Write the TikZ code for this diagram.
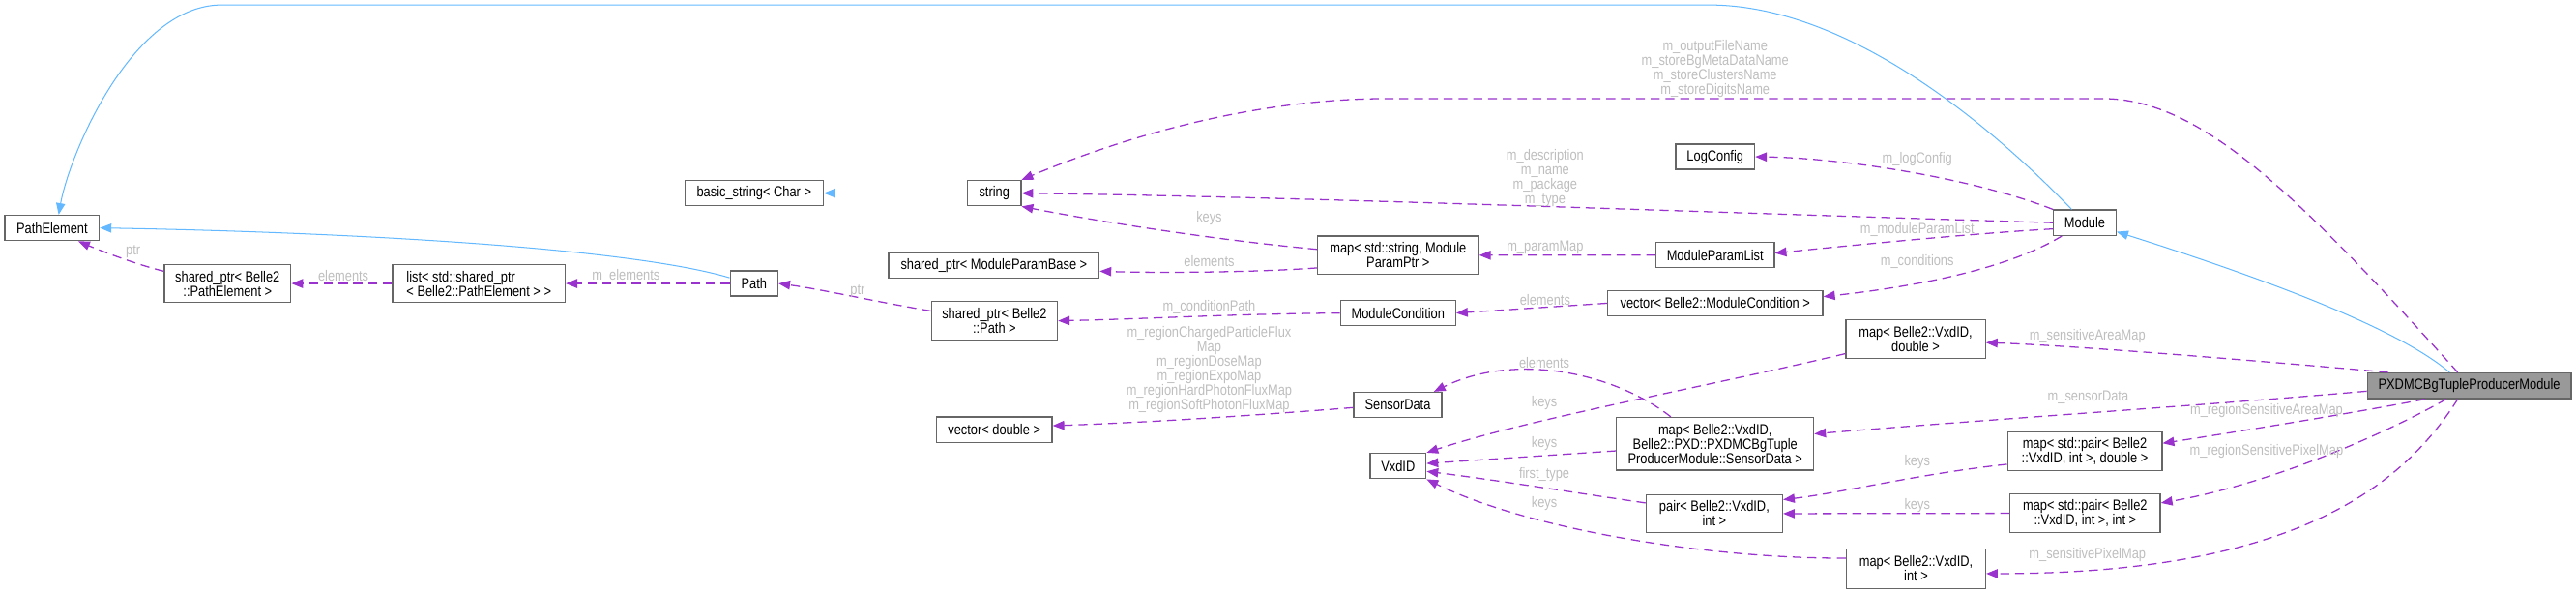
\documentclass[tikz,border=0pt]{standalone}
\usepackage{fontspec}
\setmainfont{Liberation Sans}[FakeStretch=0.84]
\usetikzlibrary{arrows.meta,calc}
\definecolor{usecol}{HTML}{9A32CD}
\definecolor{inhcol}{HTML}{63B8FF}
\definecolor{boxcol}{HTML}{666666}
\definecolor{labcol}{HTML}{BEBEBE}
\definecolor{focfill}{HTML}{999999}
\begin{document}
\begin{tikzpicture}[x=1pt,y=-1pt,
  every node/.style={font=\fontsize{9}{8.8}\selectfont, inner sep=0pt},
  cls/.style={draw=boxcol, line width=0.8pt, fill=white, align=center, minimum height=15.4pt},
  lbl/.style={text=labcol, align=center},
  use/.style={draw=usecol, line width=0.75pt, dash pattern=on 5.5pt off 3.5pt, -{Triangle[length=7pt,width=5.5pt]}},
  inh/.style={draw=inhcol, line width=0.6pt, -{Triangle[length=7pt,width=5.5pt]}},
]
\useasboundingbox (0,0) rectangle (1568,360.8);
% nodes
\node[cls, minimum width=57.4pt] (pe) at (31.7,138.7) {PathElement};
\node[cls, minimum width=77pt, minimum height=23pt] (spe) at (138.5,172.5) {shared\_ptr< Belle2\\::PathElement >};
\node[cls, minimum width=105pt, minimum height=23pt, align=left] (lst) at (291.5,172.5) {list< std::shared\_ptr\\< Belle2::PathElement > >};
\node[cls, minimum width=29pt] (path) at (459,172.5) {Path};
\node[cls, minimum width=84pt] (bs) at (459,117.5) {basic\_string< Char >};
\node[cls, minimum width=32.5pt] (str) at (605.2,117.5) {string};
\node[cls, minimum width=128pt] (spmpb) at (605,161.5) {shared\_ptr< ModuleParamBase >};
\node[cls, minimum width=76.7pt, minimum height=23.5pt] (spp) at (605.3,195.2) {shared\_ptr< Belle2\\::Path >};
\node[cls, minimum width=70.4pt] (vd) at (605.2,261.4) {vector< double >};
\node[cls, minimum width=98pt, minimum height=23.4pt] (mapstr) at (851,155.3) {map< std::string, Module\\ParamPtr >};
\node[cls, minimum width=70pt] (mc) at (851,190.5) {ModuleCondition};
\node[cls, minimum width=53.6pt] (sd) at (850.8,246.4) {SensorData};
\node[cls, minimum width=34pt] (vx) at (851,283.5) {VxdID};
\node[cls, minimum width=48pt] (lc) at (1044,95.4) {LogConfig};
\node[cls, minimum width=72pt] (mpl) at (1044,155.2) {ModuleParamList};
\node[cls, minimum width=131pt] (vmc) at (1044,184.5) {vector< Belle2::ModuleCondition >};
\node[cls, minimum width=120pt, minimum height=32pt] (msd) at (1044,270) {map< Belle2::VxdID,\\Belle2::PXD::PXDMCBgTuple\\ProducerModule::SensorData >};
\node[cls, minimum width=83pt, minimum height=23pt] (pr) at (1043.5,312.5) {pair< Belle2::VxdID,\\int >};
\node[cls, minimum width=38pt] (mod) at (1269,135.5) {Module};
\node[cls, minimum width=85pt, minimum height=23.4pt] (mvd) at (1166,206.3) {map< Belle2::VxdID,\\double >};
\node[cls, minimum width=94pt, minimum height=23.5pt] (mpd) at (1269,274.7) {map< std::pair< Belle2\\::VxdID, int >, double >};
\node[cls, minimum width=91.5pt, minimum height=23.5pt] (mpi) at (1269.2,312.3) {map< std::pair< Belle2\\::VxdID, int >, int >};
\node[cls, minimum width=84.6pt, minimum height=24pt] (mvi) at (1166.3,346) {map< Belle2::VxdID,\\int >};
\node[cls, fill=focfill, minimum width=124pt, minimum height=15.5pt] (px) at (1503,234.7) {PXDMCBgTupleProducerModule};
% inheritance
\draw[inh] ([yshift=3.5pt]path.west) .. controls (380,150) and (200,141) .. (pe.east);
\draw[inh] (str.west) -- (bs.east);
\draw[inh] ([xshift=-8pt]mod.north) .. controls (1220,85) and (1130,3) .. (1040,3) -- (135,3) .. controls (80,3) and (42,95) .. ([xshift=4pt]pe.north);
\draw[inh] ([xshift=-12pt]px.north) .. controls (1460,200) and (1380,170) .. ([yshift=-5.5pt]mod.east);
% usage
\draw[use] ([xshift=-7pt]px.north) .. controls (1400,120) and (1340,60) .. (1280,60) -- (845,60) .. controls (760,60) and (680,85) .. (str.north east);
\draw[use] (mod.west) .. controls (1000,128) and (800,120) .. (str.east);
\draw[use] ([yshift=3.6pt]mapstr.west) .. controls (740,146) and (670,135) .. (str.south east);
\draw[use] ([yshift=-7.7pt]mapstr.west) .. controls (760,166) and (700,166) .. ([yshift=-3.5pt]spmpb.east);
\draw[use] (path.west) -- (lst.east);
\draw[use] (lst.west) -- (spe.east);
\draw[use] ([yshift=7.5pt]spe.west) .. controls (80,160) and (60,152) .. ([xshift=16pt]pe.south);
\draw[use] ([yshift=6pt]spp.west) .. controls (530,183) and (500,176) .. (path.east);
\draw[use] (mc.west) .. controls (750,191) and (700,194) .. (spp.east);
\draw[use] ([yshift=-1.6pt]sd.west) .. controls (760,253) and (700,257) .. ([yshift=2.4pt]vd.east);
\draw[use] (mod.north west) .. controls (1200,108) and (1120,96) .. (lc.east);
\draw[use] ([yshift=-3.8pt]mod.west) .. controls (1200,142) and (1120,150) .. ([yshift=1.2pt]mpl.east);
\draw[use] ([xshift=-14pt]mod.south) .. controls (1220,165) and (1160,175) .. ([yshift=4pt]vmc.east);
\draw[use] (mpl.west) -- (mapstr.east);
\draw[use] (vmc.west) -- (mc.east);
\draw[use] ([xshift=13pt]px.north west) .. controls (1380,220) and (1260,210) .. ([yshift=-2.2pt]mvd.east);
\draw[use] ([yshift=-3.3pt]px.west) .. controls (1350,246) and (1200,256) .. ([yshift=6pt]msd.east);
\draw[use] ([xshift=-27pt]px.south) .. controls (1440,250) and (1360,263) .. ([yshift=5pt]mpd.east);
\draw[use] ([xshift=-14pt]px.south) .. controls (1450,265) and (1380,295) .. ([yshift=6.3pt]mpi.east);
\draw[use] ([xshift=-7pt]px.south) .. controls (1460,300) and (1390,349) .. ([yshift=-3pt]mvi.east);
\draw[use] ([xshift=-27pt]msd.north) .. controls (980,225) and (920,215) .. ([xshift=22pt]sd.north);
\draw[use] ([yshift=3.2pt]mvd.south west) .. controls (1040,235) and (930,255) .. (vx.north east);
\draw[use] ([yshift=-4.3pt]msd.west) -- ([yshift=1.5pt]vx.east);
\draw[use] ([yshift=6.5pt]pr.west) .. controls (960,300) and (910,292) .. ([yshift=-3.3pt]vx.east);
\draw[use] ([yshift=6.4pt]mvi.west) .. controls (1040,340) and (930,322) .. (vx.south east);
\draw[use] ([yshift=-7.8pt]mpd.west) .. controls (1170,288) and (1120,300) .. ([yshift=8.5pt]pr.east);
\draw[use] (mpi.west) -- (pr.east);
% labels
\node[lbl] (t1) at (1044,41.9) {m\_outputFileName\\m\_storeBgMetaDataName\\m\_storeClustersName\\m\_storeDigitsName};
\node[lbl] (t2) at (940.5,108.5) {m\_description\\m\_name\\m\_package\\m\_type};
\node[lbl] (t3) at (1167,97) {m\_logConfig};
\node[lbl] (t4) at (1167,140) {m\_moduleParamList};
\node[lbl] (t5) at (1167,159) {m\_conditions};
\node[lbl] (t6) at (940.5,150.7) {m\_paramMap};
\node[lbl] (t7) at (940.5,182.5) {elements};
\node[lbl] (t8) at (736,132.5) {keys};
\node[lbl] (t9) at (736,159) {elements};
\node[lbl] (t10) at (736,187) {m\_conditionPath};
\node[lbl] (t11) at (736,224.8) {m\_regionChargedParticleFlux\\Map\\m\_regionDoseMap\\m\_regionExpoMap\\m\_regionHardPhotonFluxMap\\m\_regionSoftPhotonFluxMap};
\node[lbl] (t12) at (522,177) {ptr};
\node[lbl] (t13) at (381,168) {m\_elements};
\node[lbl] (t14) at (209,168) {elements};
\node[lbl] (t15) at (81,153) {ptr};
\node[lbl] (t16) at (940,221) {elements};
\node[lbl] (t17) at (940,245) {keys};
\node[lbl] (t18) at (940,270) {keys};
\node[lbl] (t19) at (940,288.8) {first\_type};
\node[lbl] (t20) at (940,306.6) {keys};
\node[lbl] (t21) at (1167,280.8) {keys};
\node[lbl] (t22) at (1167,307.6) {keys};
\node[lbl] (t23) at (1270.6,204.6) {m\_sensitiveAreaMap};
\node[lbl] (t24) at (1271,242) {m\_sensorData};
\node[lbl] (t25) at (1270.6,337.8) {m\_sensitivePixelMap};
\node[lbl] (t26) at (1379.6,249.6) {m\_regionSensitiveAreaMap};
\node[lbl] (t27) at (1379.6,274.7) {m\_regionSensitivePixelMap};
\end{tikzpicture}
\end{document}
